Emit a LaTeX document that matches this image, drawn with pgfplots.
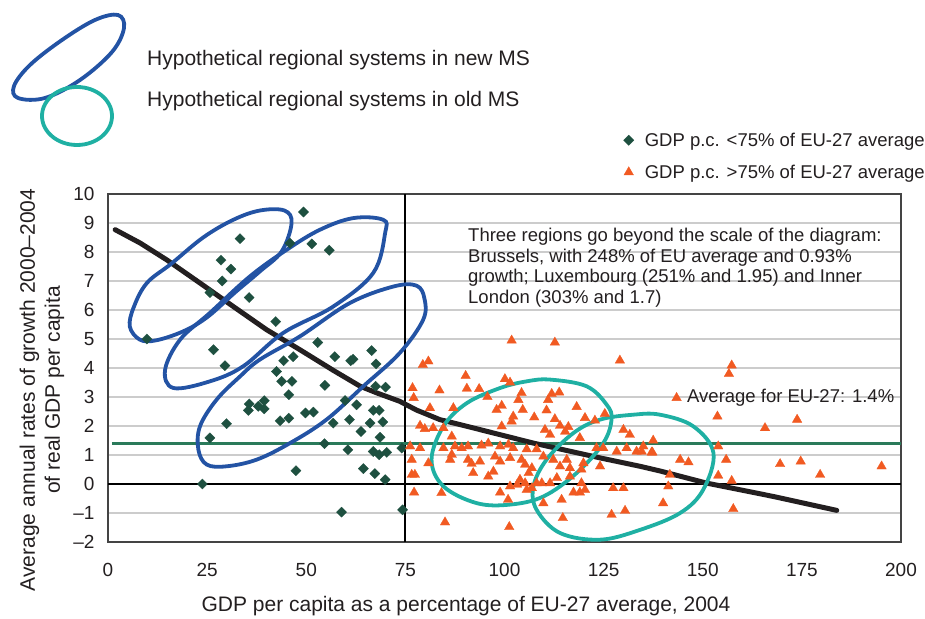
\documentclass[border=0pt]{standalone}
\usepackage{fontspec}
\setmainfont{Liberation Sans}
\usepackage{pgfplots}
\pgfplotsset{compat=1.18}
\usepackage{pgfplotstable}

\definecolor{txt}{HTML}{231F20}
\definecolor{dgreen}{HTML}{1E5040}
\definecolor{orng}{HTML}{F15A22}
\definecolor{avggreen}{HTML}{2A7A5A}
\definecolor{ellblue}{HTML}{2353A4}
\definecolor{ellteal}{HTML}{1FB0A3}
\definecolor{gridgray}{HTML}{CCCCCC}
\definecolor{framegray}{HTML}{444444}

\newcommand\lblfont{\fontsize{21}{25}\selectfont}
\newcommand\annfont{\fontsize{18.5}{20.5}\selectfont}
\newcommand\tickfont{\fontsize{19}{22}\selectfont}

% regions below 75% of the EU-27 average
\pgfplotstableread{
x y
49.3 9.38
33.3 8.46
45.9 8.30
51.4 8.28
55.8 8.06
28.5 7.72
31.0 7.41
28.8 7.00
25.7 6.60
35.6 6.43
42.3 5.60
9.8 5.00
52.9 4.88
26.6 4.63
57.2 4.39
61.2 4.25
61.8 4.30
66.5 4.60
67.6 4.14
46.7 4.39
44.3 4.25
29.5 4.08
42.5 3.88
43.8 3.54
46.4 3.54
54.7 3.40
67.5 3.37
70.0 3.34
45.6 3.08
59.8 2.88
62.7 2.73
35.6 2.76
35.4 2.54
37.9 2.68
39.4 2.87
39.4 2.59
49.8 2.45
51.8 2.48
66.9 2.54
68.4 2.54
43.4 2.18
45.6 2.27
29.9 2.08
56.8 2.10
60.9 2.22
66.1 2.10
69.3 2.14
63.8 1.81
68.6 1.61
25.7 1.59
54.6 1.39
74.1 1.24
60.5 1.18
66.9 1.12
68.4 1.01
70.3 1.09
47.4 0.46
64.4 0.53
67.3 0.36
69.9 0.15
23.8 0.00
58.9 -0.97
74.3 -0.89
}\lowgdp

% regions above 75% of the EU-27 average
\pgfplotstableread{
x y
101.8 4.95
112.7 4.88
129.1 4.26
79.4 4.11
80.8 4.23
90.2 3.73
90.5 3.29
100.1 3.62
101.4 3.50
76.8 3.31
77.1 2.97
83.6 3.23
93.6 3.28
95.7 3.00
104.3 3.14
103.5 2.90
111.9 3.11
113.8 3.16
111.0 2.90
118.2 2.66
125.3 2.42
98.0 2.56
99.3 2.70
87.1 2.62
81.2 2.62
104.6 2.56
110.6 2.54
102.2 2.33
101.8 2.16
107.5 2.30
112.7 2.24
120.3 2.28
122.8 2.19
99.3 1.99
78.7 2.01
79.9 1.90
82.0 1.93
84.6 1.93
110.2 1.87
111.5 1.70
114.0 2.01
116.1 1.97
115.3 1.81
130.0 1.87
131.6 1.70
86.7 1.64
119.0 1.59
76.2 1.30
78.7 1.24
84.6 1.24
87.5 1.30
89.2 1.24
90.8 1.30
94.2 1.33
95.9 1.40
98.9 1.30
101.0 1.36
102.2 1.24
105.6 1.20
108.1 1.20
123.2 1.24
124.9 1.24
128.3 1.12
130.8 1.24
133.3 1.12
135.0 1.30
137.1 1.09
86.7 1.01
86.3 0.84
90.8 0.84
91.7 0.70
93.8 0.78
97.6 0.95
98.9 0.78
101.4 0.90
104.3 0.84
105.2 0.67
106.9 0.55
106.1 0.38
109.8 0.95
112.3 0.84
114.0 0.61
116.5 0.55
115.7 0.84
119.9 0.72
119.4 0.50
124.1 0.61
76.6 0.84
76.6 0.32
77.4 0.32
80.8 0.72
92.1 0.38
95.9 0.26
97.2 0.43
103.9 0.15
105.2 0.03
103.2 -0.02
108.1 0.03
109.4 0.03
111.5 0.03
113.2 0.21
116.5 0.26
101.4 -0.08
106.9 -0.14
105.6 -0.20
119.4 0.03
120.3 -0.20
119.0 -0.29
117.4 -0.29
127.4 -0.14
130.0 -0.14
98.9 -0.29
77.2 -0.29
84.1 -0.31
100.9 -0.54
109.8 -0.66
114.4 -0.54
114.7 -1.17
127.0 -1.06
130.4 -0.92
85.0 -1.32
101.2 -1.48
157.3 4.09
156.6 3.80
143.4 2.97
153.7 2.33
165.7 1.93
173.8 2.22
137.5 1.50
134.6 1.12
137.3 1.09
153.9 1.30
155.9 0.84
144.3 0.84
146.4 0.75
169.5 0.69
174.7 0.78
195.1 0.61
179.6 0.32
153.9 0.29
157.3 0.11
141.7 0.32
141.3 -0.08
140.0 -0.66
157.7 -0.86
}\highgdp

\begin{document}
\begin{tikzpicture}[x=1pt,y=1pt]
\useasboundingbox (0,0) rectangle (925,618);
\begin{axis}[
    at={(108pt,76pt)}, anchor=south west,
    scale only axis, width=793pt, height=348pt,
    xmin=0, xmax=200, ymin=-2, ymax=10,
    xtick={0,25,...,200},
    xticklabels={0,25,50,75,100,125,150,175,200},
    ytick={-2,-1,...,10},
    yticklabels={–2,–1,0,1,2,3,4,5,6,7,8,9,10},
    ymajorgrids,
    grid style={draw=gridgray, line width=1.2pt},
    axis line style={draw=framegray, line width=1.6pt},
    major tick length=0pt,
    tick label style={font=\tickfont, text=txt},
    xticklabel style={yshift=-18pt},
    yticklabel style={xshift=-10pt},
    legend style={at={(axis description cs:0.65,1.182)}, anchor=north west,
        draw=none, fill=none, font=\annfont, text=txt,
        row sep=13pt, column sep=9pt, inner sep=0pt},
    legend cell align=left,
]
\addplot[forget plot, black, line width=1.8pt] coordinates {(75,-2) (75,10)};
\addplot[forget plot, black, line width=1.6pt] coordinates {(0,0) (200,0)};
\addplot[forget plot, avggreen, line width=3pt] coordinates {(1,1.4) (200,1.4)};

\addplot[only marks, mark=square*, mark size=3.6pt,
    mark options={rotate=45, fill=dgreen, draw=dgreen, line width=0.3pt}]
    table[x=x, y=y] {\lowgdp};
\addlegendentry{GDP p.c. <75\% of EU-27 average}
\addplot[only marks, mark=triangle*, mark size=5.5pt,
    mark options={fill=orng, draw=orng, line width=0.3pt}]
    table[x=x, y=y] {\highgdp};
\addlegendentry{GDP p.c. >75\% of EU-27 average}

% trend line
\addplot[forget plot, color=txt, line width=5pt, line join=round, line cap=round]
    coordinates {(1.8,8.77) (8.1,8.31) (14.8,7.73) (23.2,6.93) (31.6,6.12)
    (40.0,5.32) (48.4,4.63) (56.8,3.92) (63.6,3.37) (67.8,3.14) (73.6,2.85)
    (77.8,2.55) (83.7,2.22) (90.5,1.99) (107.3,1.41) (124.1,0.90) (134.2,0.61)
    (139.2,0.45) (151.0,0.03) (167.8,-0.43) (183.8,-0.91)};

% hypothetical regional systems, new MS
\draw[ellblue, line width=3.8pt] plot[smooth cycle, tension=0.6] coordinates {
    (44.5,9.43) (38.3,9.43) (31.6,9.11) (24,8.5) (16,7.6) (9.8,6.93) (6.5,6.1)
    (5.5,5.43) (8,4.98) (12,4.95) (18.9,5.26) (25,5.75) (32,6.6) (38.3,7.33)
    (43.8,8.02) (46.3,9.0)};
\draw[ellblue, line width=3.8pt] plot[smooth cycle, tension=0.6] coordinates {
    (69.4,9.11) (61.9,9.17) (53.5,8.77) (45.1,8.08) (35.8,7.16) (25.7,5.9)
    (18.2,4.98) (14.4,3.94) (16.5,3.31) (25.7,3.54) (34.1,4.06) (44.2,5.21)
    (56.8,6.12) (66.9,7.28) (69.9,8.66)};
\draw[ellblue, line width=3.8pt] plot[smooth cycle, tension=0.6] coordinates {
    (77.8,6.84) (72.0,6.81) (61.0,6.24) (48.4,5.09) (38.3,4.29) (33.3,3.71)
    (27.4,2.91) (23.2,1.99) (22.8,1.18) (24.9,0.67) (29.9,0.61) (37.5,0.84)
    (45.9,1.41) (55.1,2.22) (64.4,3.37) (73.6,4.52) (79.5,5.67) (79.8,6.4)};
% hypothetical regional systems, old MS
\draw[ellteal, line width=3.8pt] plot[smooth cycle, tension=0.6] coordinates {
    (111.5,3.6) (105.6,3.54) (98.9,3.31) (90.5,2.79) (84.6,1.99) (81.6,0.84)
    (84.6,-0.08) (93.0,-0.66) (101.4,-0.71) (109.8,-0.43) (118.2,0.38)
    (124.9,1.41) (127.0,2.22) (125.8,2.73) (120.7,3.37)};
\draw[ellteal, line width=3.8pt] plot[smooth cycle, tension=0.6] coordinates {
    (132.5,2.39) (139.2,2.39) (147.6,1.99) (152.7,1.07) (150.1,-0.2)
    (144.3,-1.0) (134.2,-1.58) (124.1,-1.92) (114.0,-1.69) (108.1,-0.89)
    (107.3,-0.08) (110.6,0.84) (117.4,1.76) (124.1,2.22)};
\end{axis}

% key for the hand-drawn systems
\draw[ellblue, line width=3.8pt] plot[smooth cycle, tension=0.6] coordinates {
    (118,603) (124,590) (112,566) (80,538) (45,520) (18,520) (14,532)
    (30,553) (62,578) (95,598)};
\draw[ellteal, line width=3.8pt] (77,502) ellipse (35 and 29);
\node[anchor=west, font=\lblfont, text=txt, inner sep=0pt] at (147,558)
    {Hypothetical regional systems in new MS};
\node[anchor=west, font=\lblfont, text=txt, inner sep=0pt] at (147,517)
    {Hypothetical regional systems in old MS};

\node[anchor=north west, align=left, font=\annfont, text=txt, inner sep=0pt]
    at (468,390) {Three regions go beyond the scale of the diagram:\\
    Brussels, with 248\% of EU average and 0.93\%\\
    growth; Luxembourg (251\% and 1.95) and Inner\\
    London (303\% and 1.7)};
\node[anchor=west, font=\annfont, text=txt, inner sep=0pt] at (687,220)
    {Average for EU-27: 1.4\%};

\node[rotate=90, align=center, font=\lblfont, text=txt] at (42,228)
    {Average annual rates of growth 2000–2004\\of real GDP per capita};
\node[font=\lblfont, text=txt] at (466,12)
    {GDP per capita as a percentage of EU-27 average, 2004};
\end{tikzpicture}
\end{document}
